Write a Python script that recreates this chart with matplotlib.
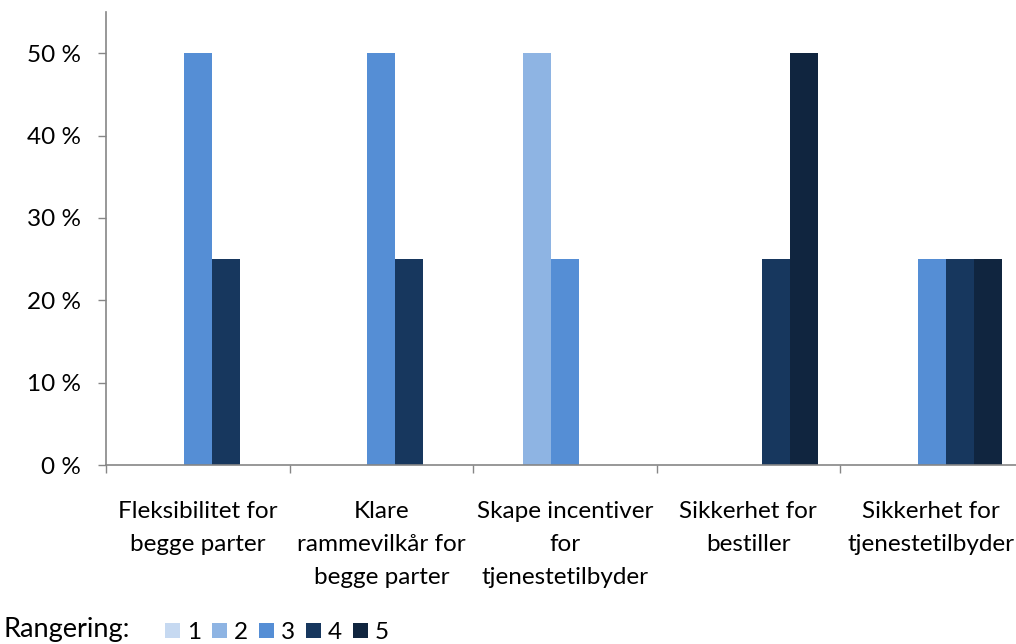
import matplotlib
matplotlib.use("Agg")
import matplotlib.pyplot as plt
import matplotlib.transforms as mtransforms
from matplotlib.patches import Patch
import numpy as np

categories = [
    "Fleksibilitet for\nbegge parter",
    "Klare\nrammevilkår for\nbegge parter",
    "Skape incentiver\nfor\ntjenestetilbyder",
    "Sikkerhet for\nbestiller",
    "Sikkerhet for\ntjenestetilbyder",
]
rank_labels = ["1", "2", "3", "4", "5"]
# share (%) of answers per rank, one list per rank
rank1 = [0, 0, 0, 0, 0]
rank2 = [0, 0, 50, 0, 0]
rank3 = [50, 50, 25, 0, 25]
rank4 = [25, 25, 0, 25, 25]
rank5 = [0, 0, 0, 50, 25]
yticks = [0, 10, 20, 30, 40, 50]

colors = ["#C6D9F1", "#8EB4E3", "#558ED5", "#17375E", "#10253F"]
axis_grey = "#868686"
fs = 17.5

plt.rcParams["font.family"] = ["Lato", "DejaVu Sans"]

fig = plt.figure(figsize=(10.16, 6.44), dpi=100)
W, H = 1016, 644
# plot area: y axis at x=106px, 0 % at y=465px, top at y=12px
ax = fig.add_axes([106 / W, (H - 465) / H, 917.5 / W, (465 - 12) / H])

x = np.arange(len(categories))
width = 0.1526
series = [rank1, rank2, rank3, rank4, rank5]
for j, (vals, c) in enumerate(zip(series, colors)):
    ax.bar(x + (j - 2) * width, vals, width, color=c, linewidth=0)

ax.set_xlim(-0.5, len(categories) - 0.5)
ax.set_ylim(0, 55)

ax.set_yticks(yticks)
ax.set_yticklabels([f"{v} %" for v in yticks])
ax.tick_params(axis="y", length=6, width=1, color=axis_grey, pad=12,
               labelsize=fs)

ax.set_xticks(x)
ax.set_xticklabels(categories, linespacing=1.7)
ax.set_xticks(np.arange(-0.5, len(categories)), minor=True)
ax.tick_params(axis="x", which="major", length=0, pad=26, labelsize=fs)
ax.tick_params(axis="x", which="minor", length=6, width=1, color=axis_grey)

# last label would run past the figure edge; right-align it instead
last = ax.get_xticklabels()[-1]
last.set_horizontalalignment("right")
last.set_multialignment("center")
last.set_transform(last.get_transform()
                   + mtransforms.ScaledTranslation(0.83, 0, fig.dpi_scale_trans))

for side in ["top", "right"]:
    ax.spines[side].set_visible(False)
for side in ["left", "bottom"]:
    ax.spines[side].set_color(axis_grey)
    ax.spines[side].set_linewidth(1.2)

fig.text(4 / W, (H - 637) / H, "Rangering:", fontsize=19.5, va="baseline")
handles = [Patch(facecolor=c, edgecolor="none") for c in colors]
fig.legend(handles, rank_labels, loc="lower left",
           bbox_to_anchor=(165 / W, (H - 643) / H), ncol=5, frameon=False,
           fontsize=fs, handlelength=0.62, handleheight=0.62,
           handletextpad=0.3, columnspacing=0.43, borderpad=0,
           borderaxespad=0)

fig.savefig("out.png", dpi=100)
